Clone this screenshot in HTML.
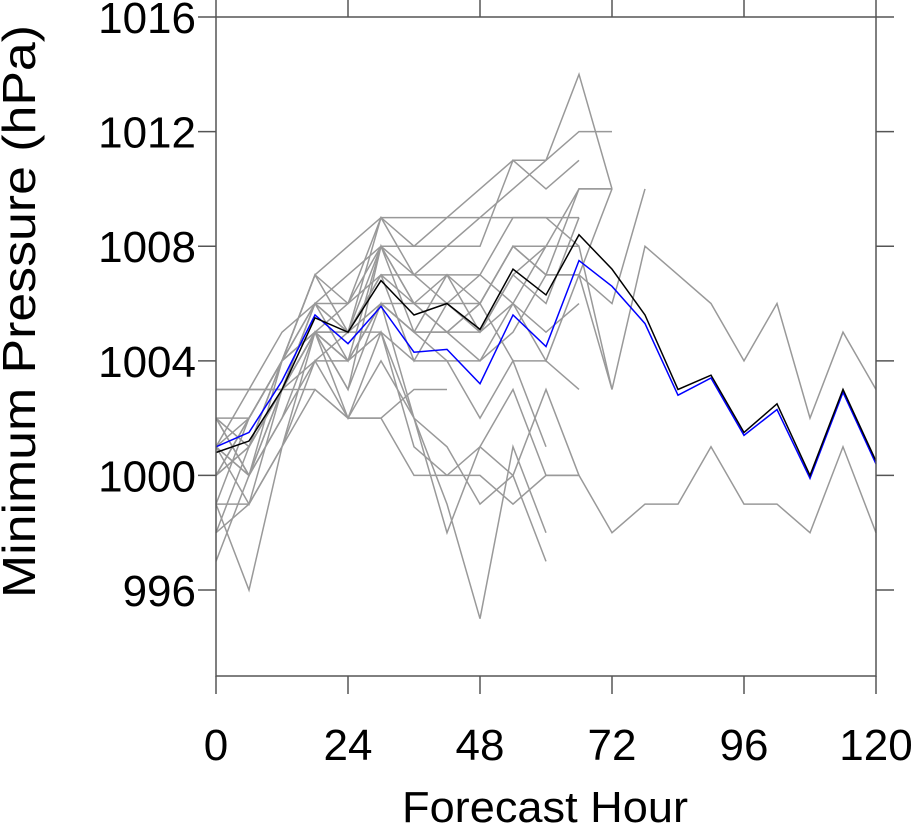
<!DOCTYPE html>
<html><head><meta charset="utf-8"><style>
html,body{margin:0;padding:0;background:#fff;}
svg{display:block;font-family:"Liberation Sans",sans-serif;}
</style></head><body>
<svg id="chart" width="911" height="827" xmlns="http://www.w3.org/2000/svg">
<g id="members"></g>
<g id="main"></g>
<g id="axes"></g>
<text x="402" y="822" font-size="44" textLength="286" lengthAdjust="spacingAndGlyphs">Forecast Hour</text>
<text transform="translate(35,598) rotate(-90)" font-size="46" textLength="573" lengthAdjust="spacingAndGlyphs">Minimum Pressure (hPa)</text>
</svg>
<script>
const hours = [0,6,12,18,24,30,36,42,48,54,60,66,72,78,84,90,96,102,108,114,120];
const xTicks = [0,24,48,72,96,120];
const yTicks = [996,1000,1004,1008,1012,1016];
const blackSeries = [1000.8,1001.2,1003,1005.5,1005,1006.8,1005.6,1006,1005.1,1007.2,1006.3,1008.4,1007.2,1005.6,1003,1003.5,1001.5,1002.5,1000,1003,1000.5];
const blueSeries = [1001,1001.5,1003.3,1005.6,1004.6,1005.9,1004.3,1004.4,1003.2,1005.6,1004.5,1007.5,1006.6,1005.3,1002.8,1003.4,1001.4,1002.3,999.9,1002.9,1000.4];
const members = [
[1000,1002,1004,1007,1008,1009,1008,1009,1010,1011,1011,1014,1010],
[1001,1003,1005,1006,1007,1008,1008,1008,1009,1010,1011,1012,1012],
[1002,1001,1004,1006,1006,1009,1007,1008,1008,1011,1010,1011],
[1001,1000,1003,1005,1005,1008,1006,1007,1006,1008,1007,1010,1010],
[999,1002,1004,1007,1005,1009,1009,1009,1009,1009,1009,1008],
[1000,1001,1003,1006,1005,1007,1006,1006,1006,1008,1007,1007,1010],
[1003,1003,1003,1005,1006,1007,1004,1006,1005,1006,1004,1007,1003],
[1002,1000,1004,1005,1004,1006,1005,1007,1005,1007,1008,1008],
[1001,999,1003,1004,1004,1005,1004,1004,1004,1005,1007,1007,1006,1010],
[1000,1002,1004,1005,1003,1008,1005,1005,1006,1004,1004,1003],
[1003,1003,1003,1003,1002,1002,1003,1003],
[999,999,1001,1004,1002,1005,1001,1000,1000,999,1000,1000,998,999,999,1001,999,999,998,1001,998],
[997,1000,1003,1005,1002,1004,1002,999,995,1001,998],
[998,1001,1003,1005,1005,1005,1002,998,1001,1000,1003,1000],
[1001,1002,1004,1007,1006,1008,1006,1005,1006,1008,1008,1008,1003,1008,1007,1006,1004,1006,1002,1005,1003],
[999,996,1001,1005,1003,1006,1002,1001,999,1000,997],
[1002,1002,1004,1005,1004,1006,1005,1004,1002,1004,1001],
[998,999,1001,1003,1002,1002,1000,1000,1001,1003,1000,1000],
[1002,1001,1004,1006,1005,1007,1007,1007,1007,1009,1009,1009],
[1001,1000,1002,1005,1004,1006,1005,1005,1004,1006,1008,1010,1010],
[1000,1001,1003,1006,1004,1008,1007,1006,1007,1006,1005,1006],
[1002,1000,1002,1004,1005,1006,1006,1005,1005,1007,1006,1009]
];
const X0=216,X1=876,Y0=676,Y1=17,VMIN=993,VMAX=1016;
const xs=h=>X0+(h-0)/(120-0)*(X1-X0);
const ys=v=>Y0-(v-VMIN)/(VMAX-VMIN)*(Y0-Y1);
const NS="http://www.w3.org/2000/svg";
function mk(tag,parent){const e=document.createElementNS(NS,tag);parent.appendChild(e);return e;}
const mg=document.getElementById('members');
members.forEach((m,i)=>{
  const p=mk('polyline',mg);
  
  
  p.setAttribute('points',m.map((v,j)=>xs(hours[j])+','+ys(v)).join(' '));
  p.setAttribute('fill','none');p.setAttribute('stroke','#999');p.setAttribute('stroke-width','1.5');
});
const main=document.getElementById('main');
[[blueSeries,'#0000ff','blue-line'],[blackSeries,'#000','black-line']].forEach(([s,c,n])=>{
  const p=mk('polyline',main);
  
  
  p.setAttribute('points',s.map((v,j)=>xs(hours[j])+','+ys(v)).join(' '));
  p.setAttribute('fill','none');p.setAttribute('stroke',c);p.setAttribute('stroke-width','1.5');
});
const ax=document.getElementById('axes');
const fr=mk('rect',ax);


fr.setAttribute('x',X0);fr.setAttribute('y',Y1);fr.setAttribute('width',X1-X0);fr.setAttribute('height',Y0-Y1);
fr.setAttribute('fill','none');fr.setAttribute('stroke','#555');fr.setAttribute('stroke-width','1.5');
function line(x1,y1,x2,y2,name){const l=mk('line',ax);


l.setAttribute('x1',x1);l.setAttribute('y1',y1);l.setAttribute('x2',x2);l.setAttribute('y2',y2);l.setAttribute('stroke','#555');l.setAttribute('stroke-width','1.5');}
xTicks.forEach(h=>{const x=xs(h);
  line(x,Y0,x,Y0+18,'x-tick');line(x,Y1,x,Y1-17,'x-tick-top');
  const t=mk('text',ax);
  
  
  t.setAttribute('x',x);t.setAttribute('y',760);t.setAttribute('font-size','44');t.setAttribute('text-anchor','middle');t.textContent=h;});
yTicks.forEach(v=>{const y=ys(v);
  line(X0-18,y,X0,y,'y-tick');line(X1,y,X1+18,y,'y-tick-right');
  const t=mk('text',ax);
  
  
  t.setAttribute('x',196);t.setAttribute('y',y+16);t.setAttribute('font-size','44');t.setAttribute('text-anchor','end');t.textContent=v;});
</script>
</body></html>
